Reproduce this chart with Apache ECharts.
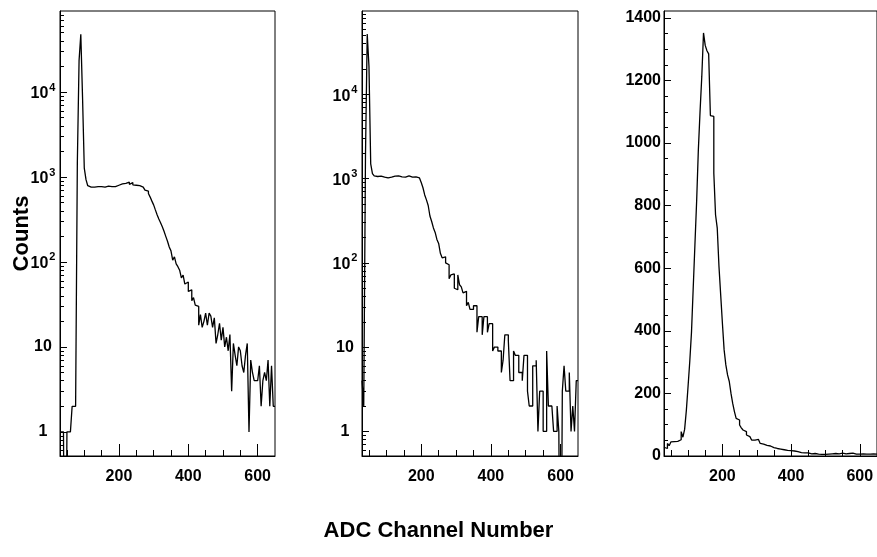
<!DOCTYPE html>
<html><head><meta charset="utf-8">
<script src="https://cdn.jsdelivr.net/npm/echarts@6/dist/echarts.min.js"></script>
<style>html,body{margin:0;padding:0;background:#fff}#c{width:877px;height:557px}</style>
</head><body><div id="c"></div>
<script>
// Histogram binning (ADC channels): lower edge of first bin and bin width
const BIN_START = 30;
const BIN_WIDTH = 5;

// Counts per bin, bins starting at 30, 35, 40, ... 645
const countsLeft = [
  1,1,1,0,1,1,1,2,2,2,
  1480,23600,48000,8700,1270,930,790,760,770,760,
  780,770,790,770,780,760,790,780,760,770,
  750,770,760,800,820,830,850,840,830,870,
  820,860,810,800,800,790,760,760,730,700,
  680,640,580,520,470,410,360,320,290,260,
  230,200,175,150,135,105,115,95,88,80,
  65,70,55,58,45,47,35,38,31,30,
  18,24,17,20,25,18,25,23,17,22,
  11,14,19,12,17,10,13,9,14,3,
  11,8,6,10,9,6,5,8,11,1,
  7,5,4,4,4,6,2,4,5,4,
  7,2,6,2
];
const countsMiddle = [
  4,2,1900,52000,21600,1500,1150,1080,1060,1050,
  1070,1060,1040,1060,1020,1050,1040,1060,1070,1050,
  1080,1060,1050,1070,1040,1060,1080,1050,1040,1070,
  1050,1060,1020,1000,900,780,640,560,480,360,
  310,260,230,190,170,130,115,118,100,95,
  65,72,74,50,48,72,55,52,44,46,
  31,34,28,28,31,31,15,23,23,14,
  23,23,15,19,19,9,10,10,9,9,
  5,7,14,14,12,4,4,9,8,8,
  5,5,4,8,8,3,2,2,6,6,
  7,1,3,3,1,1,9,2,2,2,
  1,1,2,1,0,3,6,3,3,5,
  1,2,1,4
];
const countsRight = [
  28,24,40,33,45,46,45,47,48,52,
  78,60,85,145,222,302,395,536,675,814,
  979,1102,1213,1352,1312,1295,1285,1088,1085,904,
  771,728,606,515,424,339,291,259,238,200,
  168,142,120,115,99,90,83,78,67,62,
  57,51,51,46,53,50,40,38,35,34,
  36,32,30,27,28,24,25,22,23,20,
  21,18,19,17,15,16,13,14,12,11,
  12,10,9,10,8,7,6,8,5,6,
  4,5,3,5,4,6,4,7,5,8,
  6,7,5,9,6,7,5,8,6,9,
  5,6,4,6,5,7,4,6,5,6,
  4,7,5,6
];

// Axis ticks / labels
const xRange = [30, 650];
const xMajorTicks = [200, 400, 600];
const xMinorTicks = [50, 100, 150, 250, 300, 350, 450, 500, 550];
const logLabelDecades = [0, 1, 2, 3, 4];          // 1, 10, 10^2, 10^3, 10^4
const linMajorTicks = [0, 200, 400, 600, 800, 1000, 1200, 1400];
const linMinorStep = 50;

const xTitle = 'ADC Channel Number';
const yTitle = 'Counts';

const FONT = 'Liberation Sans, Arial, Helvetica, sans-serif';

// minor ticks for log axes (k * 10^n), in log10 space
const logMinor = [];
for (let n = -1; n <= 4; n++) for (let k = 2; k <= 9; k++) logMinor.push(Math.log10(k) + n);
const linMinor = [];
for (let v = linMinorStep; v < 1400; v += linMinorStep) if (v % 200 !== 0) linMinor.push(v);

const panels = [
  {left: 60,  width: 215, log: true,  data: countsLeft,   yMin: Math.log10(0.52), yMax: 4.954},
  {left: 362, width: 216, log: true,  data: countsMiddle, yMin: Math.log10(0.51), yMax: 4.99},
  {left: 664, width: 216, log: false, data: countsRight,  yMin: 0, yMax: 1422}
];

const grid = [], xAxis = [], yAxis = [], series = [];
panels.forEach((p, i) => {
  grid.push({left: p.left, top: 11, width: p.width, height: 445, show: true,
    borderColor: '#000', borderWidth: 1, backgroundColor: 'transparent'});
  const common = {gridIndex: i, type: 'value', position: 'bottom', min: xRange[0], max: xRange[1],
    splitLine: {show: false}};
  xAxis.push(Object.assign({}, common, {
    axisLine: {show: true, onZero: false, lineStyle: {color: '#000', width: 1}},
    axisTick: {show: true, inside: true, length: 12, customValues: xMajorTicks, lineStyle: {color: '#000', width: 1}},
    axisLabel: {show: true, customValues: xMajorTicks, margin: 13, color: '#000',
      fontSize: 16, fontWeight: 'bold', fontFamily: FONT, formatter: v => String(v)}
  }));
  xAxis.push(Object.assign({}, common, {
    axisLine: {show: false, onZero: false},
    axisTick: {show: true, inside: true, length: 6, customValues: xMinorTicks, lineStyle: {color: '#000', width: 1}},
    axisLabel: {show: false}
  }));
  const yc = {gridIndex: i, type: 'value', position: 'left', min: p.yMin, max: p.yMax, splitLine: {show: false}};
  if (p.log) {
    yAxis.push(Object.assign({}, yc, {
      axisLine: {show: true, onZero: false, lineStyle: {color: '#000', width: 1}},
      axisTick: {show: true, inside: true, length: 7, customValues: logLabelDecades, lineStyle: {color: '#000'}},
      axisLabel: {show: true, customValues: logLabelDecades, align: 'center', margin: 17, color: '#000',
        fontSize: 16, fontWeight: 'bold', fontFamily: FONT,
        formatter: function (v) {
          const n = Math.round(v);
          if (n === 0) return '1';
          if (n === 1) return '10';
          return '{b|10}{s|' + n + '}';
        },
        rich: {
          b: {fontSize: 16, fontWeight: 'bold', fontFamily: FONT, color: '#000', lineHeight: 20, verticalAlign: 'bottom'},
          s: {fontSize: 11, fontWeight: 'bold', fontFamily: FONT, color: '#000', lineHeight: 20, verticalAlign: 'top', padding: [0, 0, 0, 1]}
        }
      },
      name: i === 0 ? yTitle : '', nameLocation: 'middle', nameRotate: 90, nameGap: 27,
      nameMoveOverlap: false,
      nameTextStyle: {fontSize: 22, fontWeight: 'bold', fontFamily: FONT, color: '#000'}
    }));
    yAxis.push(Object.assign({}, yc, {
      axisLine: {show: false, onZero: false},
      axisTick: {show: true, inside: true, length: 4, customValues: logMinor, lineStyle: {color: '#000'}},
      axisLabel: {show: false}
    }));
  } else {
    yAxis.push(Object.assign({}, yc, {
      axisLine: {show: true, onZero: false, lineStyle: {color: '#000', width: 1}},
      axisTick: {show: true, inside: true, length: 7, customValues: linMajorTicks, lineStyle: {color: '#000'}},
      axisLabel: {show: true, customValues: linMajorTicks, margin: 3, color: '#000',
        fontSize: 16, fontWeight: 'bold', fontFamily: FONT, formatter: v => String(Math.round(v))}
    }));
    yAxis.push(Object.assign({}, yc, {
      axisLine: {show: false, onZero: false},
      axisTick: {show: true, inside: true, length: 4, customValues: linMinor, lineStyle: {color: '#000'}},
      axisLabel: {show: false}
    }));
  }
  const pts = p.data.map((c, j) => {
    const y = p.log ? (c > 0 ? Math.log10(c) : -3) : c;
    return [BIN_START + j * BIN_WIDTH, y];
  });
  pts.push([BIN_START + p.data.length * BIN_WIDTH, pts[pts.length - 1][1]]);
  series.push({type: 'line', xAxisIndex: 2 * i, yAxisIndex: 2 * i, data: pts, step: 'end',
    symbol: 'none', clip: true, silent: true,
    lineStyle: {color: '#000', width: 1.3}});
});

const chart = echarts.init(document.getElementById('c'), null, {renderer: 'canvas'});
chart.setOption({
  animation: false,
  backgroundColor: '#fff',
  title: {text: xTitle, left: 'center', top: 515,
    textStyle: {fontSize: 22, fontWeight: 'bold', fontFamily: FONT, color: '#000'}},
  grid, xAxis, yAxis, series
});
</script></body></html>
